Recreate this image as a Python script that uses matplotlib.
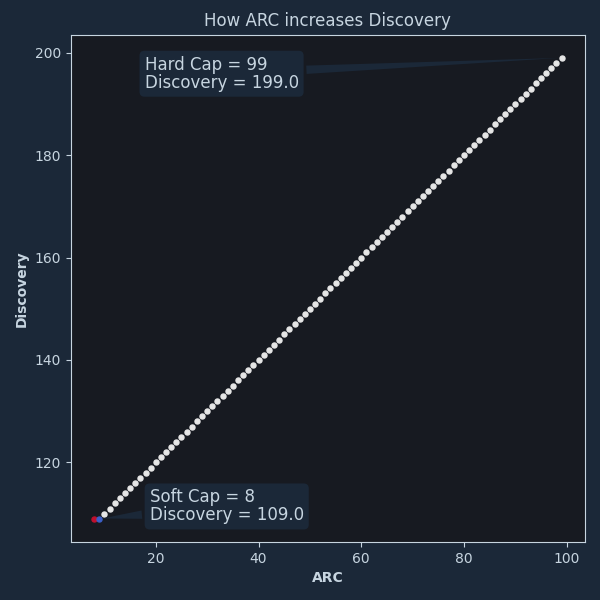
import numpy as np
import matplotlib
matplotlib.use('Agg')
import matplotlib.pyplot as plt

# data
arc = np.arange(10, 100)
discovery = arc + 100.0
soft_arc = [8]
soft_disc = [109]
extra_arc = [9]
extra_disc = [109]
soft_cap = 9
soft_val = 109.0
hard_cap = 99
hard_val = 199.0

bg = '#1b2838'
ax_bg = '#171a21'
txt = '#c7d5e0'

fig, ax = plt.subplots(figsize=(6, 6), dpi=100)
fig.patch.set_facecolor(bg)
ax.set_facecolor(ax_bg)
fig.subplots_adjust(left=0.118, right=0.975, top=0.942, bottom=0.097)

ax.scatter(arc, discovery, s=13, color='#e6e6e6', zorder=3)
ax.scatter(soft_arc, soft_disc, s=13, color='#c0102e', zorder=3)
ax.scatter(extra_arc, extra_disc, s=13, color='#3b5fc8', zorder=3)

ax.annotate('Soft Cap = 8\nDiscovery = %.1f' % soft_val, xy=(soft_cap, soft_val),
            xytext=(18.8, 111.4), fontsize=12, color=txt, linespacing=1.0,
            va='center',
            bbox=dict(boxstyle='round', fc=bg, ec='none'),
            arrowprops=dict(arrowstyle='wedge,tail_width=0.5', fc=bg, ec='none'))
ax.annotate('Hard Cap = %d\nDiscovery = %.1f' % (hard_cap, hard_val), xy=(hard_cap, hard_val),
            xytext=(17.8, 195.9), fontsize=12, color=txt, linespacing=1.0,
            va='center',
            bbox=dict(boxstyle='round', fc=bg, ec='none'),
            arrowprops=dict(arrowstyle='wedge,tail_width=0.5', fc=bg, ec='none'))

ax.set_title('How ARC increases Discovery', color=txt, fontsize=12)
ax.set_xlabel('ARC', color=txt, fontweight='bold')
ax.set_ylabel('Discovery', color=txt, fontweight='bold')
ax.tick_params(colors=txt)
for sp in ax.spines.values():
    sp.set_color(txt)

plt.savefig('out.png', facecolor=bg)
